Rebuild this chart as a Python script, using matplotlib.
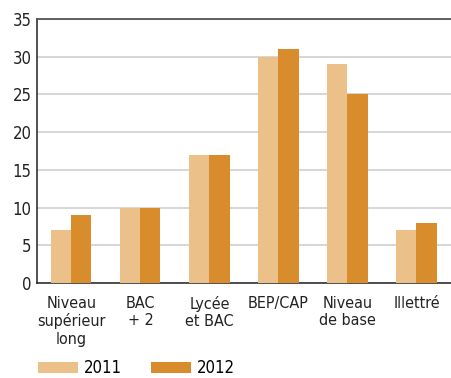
import matplotlib
matplotlib.use("Agg")
import matplotlib.pyplot as plt
import numpy as np

categories = ["Niveau\nsupérieur\nlong", "BAC\n+ 2", "Lycée\net BAC", "BEP/CAP", "Niveau\nde base", "Illettré"]
values_2011 = [7, 10, 17, 30, 29, 7]
values_2012 = [9, 10, 17, 31, 25, 8]
series_labels = ["2011", "2012"]
yticks = [0, 5, 10, 15, 20, 25, 30, 35]

LIGHT = "#ecc089"
DARK = "#d98c2b"

plt.rcParams["font.family"] = ["DejaVu Sans"]
plt.rcParams["font.stretch"] = "condensed"
plt.rcParams["font.size"] = 12

fig = plt.figure(figsize=(4.51, 3.78), dpi=100)
ax = fig.add_axes([0.082, 0.251, 0.918, 0.699])

x = np.arange(len(categories))
w = 0.29
ax.bar(x - w / 2, values_2011, w, color=LIGHT, label=series_labels[0], zorder=3)
ax.bar(x + w / 2, values_2012, w, color=DARK, label=series_labels[1], zorder=3)

ax.set_xlim(-0.5, len(categories) - 0.5)
ax.set_ylim(0, 35)
ax.set_yticks(yticks)
ax.set_xticks(x)
ax.set_xticklabels(categories, va="top", linespacing=1.2, fontsize=11.5)
ax.tick_params(axis="both", length=0, colors="#222222")
ax.tick_params(axis="x", pad=9)
ax.tick_params(axis="y", pad=4)

ax.yaxis.grid(True, color="#d0d0d0", lw=1.2, zorder=0)
ax.spines["right"].set_visible(False)
ax.spines["top"].set_color("#555555")
ax.spines["top"].set_linewidth(1.3)
ax.spines["left"].set_color("#222222")
ax.spines["bottom"].set_color("#222222")
ax.spines["left"].set_linewidth(1.1)
ax.spines["bottom"].set_linewidth(1.1)

fig.legend(loc="lower left", bbox_to_anchor=(0.05, -0.038), ncol=2, frameon=False,
           handlelength=2.4, handleheight=0.7, handletextpad=0.4, columnspacing=1.7)

fig.savefig("out.png", dpi=100)
